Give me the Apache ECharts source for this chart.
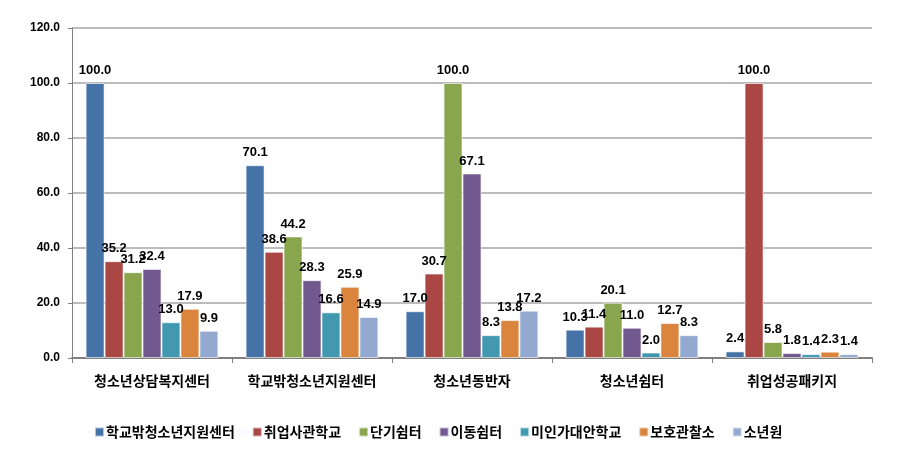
<!DOCTYPE html>
<html><head><meta charset="utf-8">
<script src="https://cdn.jsdelivr.net/npm/echarts@6/dist/echarts.min.js"></script>
<style>html,body{margin:0;padding:0;background:#fff}#c{width:898px;height:453px}</style>
</head><body><div id="c"></div>
<script>
const categories = ['청소년상담복지센터','학교밖청소년지원센터','청소년동반자','청소년쉼터','취업성공패키지'];
const seriesNames = ['학교밖청소년지원센터','취업사관학교','단기쉼터','이동쉼터','미인가대안학교','보호관찰소','소년원'];
const s1 = [100.0, 70.1, 17.0, 10.3, 2.4];
const s2 = [35.2, 38.6, 30.7, 11.4, 100.0];
const s3 = [31.2, 44.2, 100.0, 20.1, 5.8];
const s4 = [32.4, 28.3, 67.1, 11.0, 1.8];
const s5 = [13.0, 16.6, 8.3, 2.0, 1.4];
const s6 = [17.9, 25.9, 13.8, 12.7, 2.3];
const s7 = [9.9, 14.9, 17.2, 8.3, 1.4];
const yTicks = [0, 20, 40, 60, 80, 100, 120];
const colors = ['#4572A7','#AA4643','#89A54E','#71588F','#4198AF','#DB843D','#93A9CF'];
const allData = [s1,s2,s3,s4,s5,s6,s7];
const font = '"Noto Sans CJK KR", "Noto Sans", sans-serif';
const chart = echarts.init(document.getElementById('c'));
chart.setOption({
  animation:false,
  grid:{left:72,right:26,top:28,bottom:95,containLabel:false},
  legend:{
    top:420,left:89,itemWidth:9,itemHeight:9,itemGap:17,icon:'rect',
    textStyle:{fontFamily:font,fontSize:14,fontWeight:'bold',color:'#000',padding:[0,0,0,-3]},
    data:seriesNames
  },
  xAxis:{
    type:'category',data:categories,
    axisLine:{lineStyle:{color:'#808080',width:2}},
    axisTick:{show:true,length:5,lineStyle:{color:'#808080'}},
    axisLabel:{interval:0,fontFamily:font,fontSize:14,fontWeight:'bold',color:'#000',margin:16}
  },
  yAxis:{
    type:'value',min:yTicks[0],max:yTicks[yTicks.length-1],interval:20,
    axisLine:{show:true,lineStyle:{color:'#808080'}},
    axisTick:{show:true,length:4,lineStyle:{color:'#808080'}},
    splitLine:{lineStyle:{color:'#a6a6a6',width:1.5}},
    axisLabel:{fontFamily:'"Liberation Sans", sans-serif',fontSize:12,fontWeight:'bold',color:'#000',margin:12,
      formatter:v=>v.toFixed(1)}
  },
  series: seriesNames.map((n,i)=>({
    name:n,type:'bar',data:allData[i],barGap:'0%',barCategoryGap:'17%',
    itemStyle:{color:colors[i],borderColor:'rgba(255,255,255,0.6)',borderWidth:1},
    label:{show:true,position:'top',distance:6,fontFamily:'"Liberation Sans", sans-serif',fontSize:13,fontWeight:'bold',color:'#000',
      formatter:p=>p.value.toFixed(1)}
  }))
});
</script></body></html>
